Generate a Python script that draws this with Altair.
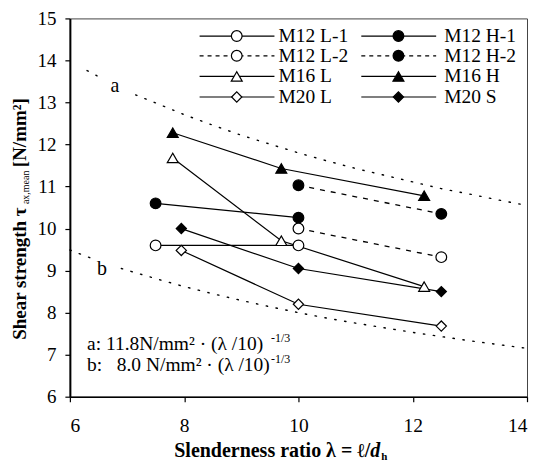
import altair as alt
import pandas as pd

# ---------------- data ----------------
m12_l1_x = [7.5, 10.0]
m12_l1_y = [9.6, 9.6]
m12_l2_x = [10.0, 12.5]
m12_l2_y = [10.0, 9.32]
m16_l_x = [7.8, 9.7, 12.2]
m16_l_y = [11.68, 9.71, 8.62]
m20_l_x = [7.95, 10.0, 12.5]
m20_l_y = [9.48, 8.2, 7.68]
m12_h1_x = [7.5, 10.0]
m12_h1_y = [10.6, 10.26]
m12_h2_x = [10.0, 12.5]
m12_h2_y = [11.03, 10.35]
m16_h_x = [7.8, 9.7, 12.2]
m16_h_y = [12.28, 11.43, 10.78]
m20_s_x = [7.95, 10.0, 12.5]
m20_s_y = [10.0, 9.05, 8.5]

# reference curves a and b, split round their labels
curve_a1_x = [6.3, 6.48]
curve_a1_y = [13.76, 13.63]
curve_a2_x = [7.15, 7.5, 8.0, 8.5, 9.0, 9.5, 10.0, 10.5, 11.0, 11.5, 12.0, 12.5, 13.0, 13.5, 14.0]
curve_a2_y = [13.18, 12.99, 12.71, 12.46, 12.22, 12.01, 11.8, 11.61, 11.43, 11.27, 11.11, 10.95, 10.82, 10.68, 10.55]
curve_b1_x = [6.0, 6.38]
curve_b1_y = [9.49, 9.29]
curve_b2_x = [6.9, 7.5, 8.0, 8.5, 9.0, 9.5, 10.0, 10.5, 11.0, 11.5, 12.0, 12.5, 13.0, 13.5, 14.0]
curve_b2_y = [9.05, 8.81, 8.62, 8.45, 8.29, 8.14, 8.0, 7.87, 7.75, 7.64, 7.53, 7.43, 7.33, 7.24, 7.15]

x_ticks = [6, 8, 10, 12, 14]
y_ticks = [6, 7, 8, 9, 10, 11, 12, 13, 14, 15]

# series: name, x, y, shape, fill, dashed  (legend order, row by row)
series = [
    ("M12 L-1", m12_l1_x, m12_l1_y, "circle", "white", False),
    ("M12 H-1", m12_h1_x, m12_h1_y, "circle", "black", False),
    ("M12 L-2", m12_l2_x, m12_l2_y, "circle", "white", True),
    ("M12 H-2", m12_h2_x, m12_h2_y, "circle", "black", True),
    ("M16 L", m16_l_x, m16_l_y, "triangle-up", "white", False),
    ("M16 H", m16_h_x, m16_h_y, "triangle-up", "black", False),
    ("M20 L", m20_l_x, m20_l_y, "diamond", "white", False),
    ("M20 S", m20_s_x, m20_s_y, "diamond", "black", False),
]
sizes = {"circle": 115, "triangle-up": 120, "diamond": 105}

rows = []
for name, xs, ys, shp, fill, dashed in series:
    for xv, yv in zip(xs, ys):
        rows.append(dict(series=name, x=xv, y=yv, shape=shp, fill=fill,
                         dashed=dashed, size=sizes[shp]))
pts = pd.DataFrame(rows)

crows = []
for seg, xs, ys in [("a1", curve_a1_x, curve_a1_y), ("a2", curve_a2_x, curve_a2_y),
                    ("b1", curve_b1_x, curve_b1_y), ("b2", curve_b2_x, curve_b2_y)]:
    for xv, yv in zip(xs, ys):
        crows.append(dict(seg=seg, x=xv, y=yv))
curves = pd.DataFrame(crows)

# legend layout (in data units)
leg_rows_y = [14.58, 14.11, 13.62, 13.13]
leg_cols = [(8.27, 9.58, 8.92, 9.65), (11.10, 12.41, 11.75, 12.55)]
lrows = []
for i, (name, xs, ys, shp, fill, dashed) in enumerate(series):
    c = leg_cols[i % 2]
    lrows.append(dict(series=name, x1=c[0], x2=c[1], xm=c[2], xt=c[3],
                      y=leg_rows_y[i // 2], shape=shp, fill=fill, dashed=dashed,
                      size=sizes[shp]))
leg = pd.DataFrame(lrows)

SERIF = "Liberation Serif"

xscale = alt.Scale(domain=[6, 14], nice=False)
yscale = alt.Scale(domain=[6, 15], nice=False, zero=False)
X = alt.X("x:Q", scale=xscale,
          axis=alt.Axis(values=x_ticks, title=None, format="d", labelPadding=15,
                        domainWidth=1.5, labelFont=SERIF, labelFontSize=19.5))
Y = alt.Y("y:Q", scale=yscale,
          axis=alt.Axis(values=y_ticks, title=None, format="d", labelPadding=9,
                        domainWidth=2, labelFont=SERIF, labelFontSize=19))

curve_layer = alt.Chart(curves).mark_line(
    color="black", strokeWidth=1.4, strokeDash=[1.4, 8.6], strokeCap="round"
).encode(x=X, y=Y, detail="seg:N")

solid_lines = alt.Chart(pts[~pts.dashed]).mark_line(color="black", strokeWidth=1.2).encode(
    x="x:Q", y="y:Q", detail="series:N")
dashed_lines = alt.Chart(pts[pts.dashed]).mark_line(
    color="black", strokeWidth=1.3, strokeDash=[5, 6]).encode(
    x="x:Q", y="y:Q", detail="series:N")

points = alt.Chart(pts).mark_point(filled=True, stroke="black", strokeWidth=1.2, opacity=1).encode(
    x="x:Q", y="y:Q",
    shape=alt.Shape("shape:N", scale=None),
    fill=alt.Fill("fill:N", scale=None),
    size=alt.Size("size:Q", scale=None),
)

leg_solid = alt.Chart(leg[~leg.dashed]).mark_rule(color="black", strokeWidth=1.2).encode(
    x="x1:Q", x2="x2:Q", y="y:Q")
leg_dashed = alt.Chart(leg[leg.dashed]).mark_rule(
    color="black", strokeWidth=1.3, strokeDash=[4, 4]).encode(
    x="x1:Q", x2="x2:Q", y="y:Q")
leg_pts = alt.Chart(leg).mark_point(filled=True, stroke="black", strokeWidth=1.2, opacity=1).encode(
    x="xm:Q", y="y:Q",
    shape=alt.Shape("shape:N", scale=None),
    fill=alt.Fill("fill:N", scale=None),
    size=alt.Size("size:Q", scale=None),
)
leg_txt = alt.Chart(leg).mark_text(
    font=SERIF, fontSize=19.5, align="left", baseline="middle", color="black"
).encode(x="xt:Q", y="y:Q", text="series:N")

# curve labels and formula annotations
lab = pd.DataFrame(dict(x=[6.79, 6.56], y=[13.40, 9.04], t=["a", "b"]))
lab_layer = alt.Chart(lab).mark_text(
    font=SERIF, fontSize=20, align="center", baseline="middle", color="black"
).encode(x="x:Q", y="y:Q", text="t:N")

ann = pd.DataFrame(dict(x=[6.3, 6.3], y=[7.12, 6.62],
                        t=["a: 11.8N/mm\u00b2 \u00b7 (\u03bb /10)",
                           "b: \u20078.0 N/mm\u00b2 \u00b7 (\u03bb /10)"]))
ann_layer = alt.Chart(ann).mark_text(
    font=SERIF, fontSize=19.5, align="left", baseline="alphabetic", color="black"
).encode(x="x:Q", y="y:Q", text="t:N")
sup = pd.DataFrame(dict(x=[9.52, 9.52], y=[7.31, 6.81], t=["-1/3", "-1/3"]))
sup_layer = alt.Chart(sup).mark_text(
    font=SERIF, fontSize=12, align="left", baseline="alphabetic", color="black"
).encode(x="x:Q", y="y:Q", text="t:N")

# axis titles built from pieces (sub/superscripts)
def txt(s, x, y, size, weight="bold", style="normal", angle=0, align="left"):
    return alt.Chart(pd.DataFrame({"t": [s]})).mark_text(
        font=SERIF, fontSize=size, fontWeight=weight, fontStyle=style,
        align=align, baseline="alphabetic", angle=angle, color="black"
    ).encode(x=alt.value(x), y=alt.value(y), text="t:N")

xt1 = txt("Slenderness ratio \u03bb = \u2113/", 301, 439, 20, align="right")
xt2 = txt("d", 301, 439, 20, style="italic")
xt3 = txt("h", 312, 442, 11)

yt1 = txt("Shear strength \u03c4", -44, 322, 19, angle=270)
yt2 = txt("ax,mean", -41, 186, 10, weight="normal", angle=270)
yt3 = txt("[N/mm\u00b2]", -44, 149, 19, angle=270)

chart = alt.layer(
    curve_layer, solid_lines, dashed_lines, points,
    leg_solid, leg_dashed, leg_pts, leg_txt,
    lab_layer, ann_layer, sup_layer,
    xt1, xt2, xt3, yt1, yt2, yt3,
).properties(
    width=458, height=379,
    padding={"left": 62, "top": 10, "right": 4, "bottom": 68},
    autosize=alt.AutoSizeParams(type="none"),
    background="white",
).configure_axis(
    labelFont=SERIF, labelColor="black",
    tickColor="black", tickSize=5, tickWidth=1.2, domainColor="black", grid=False,
).configure_view(stroke="#444", strokeWidth=1)

chart.save("out.html", embed_options={"renderer": "svg", "actions": False})
